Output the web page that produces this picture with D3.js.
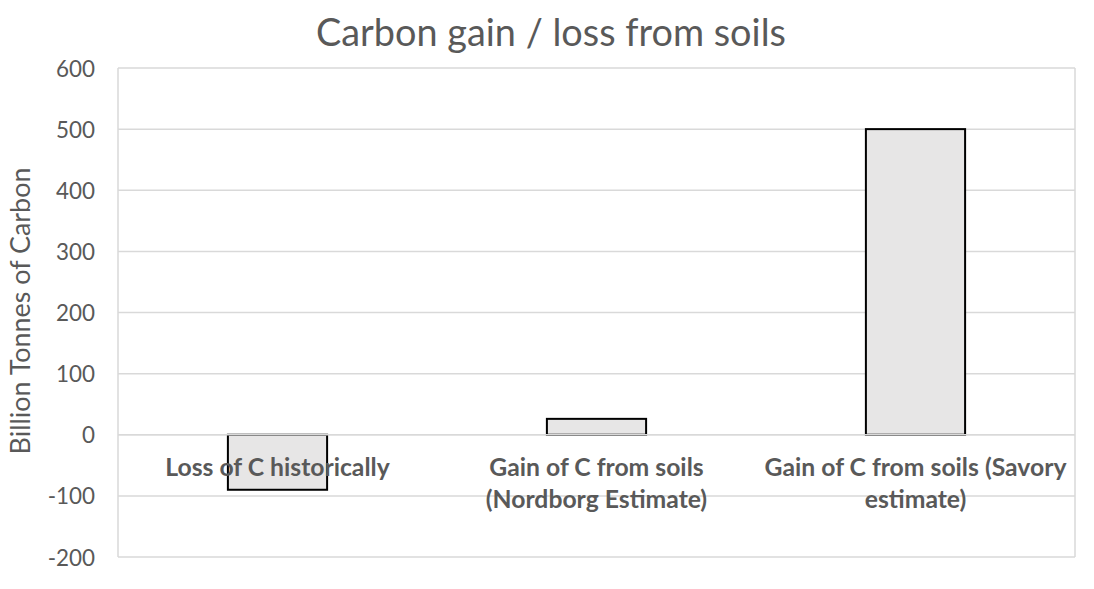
<!DOCTYPE html>
<html>
<head>
<meta charset="utf-8">
<script src="https://cdn.jsdelivr.net/npm/d3@7"></script>
<style>
  html, body { margin: 0; padding: 0; background: #fff; }
  svg { display: block; }
</style>
</head>
<body>
<svg id="chart" width="1094" height="589"></svg>
<script>
// ---- data ----
const categories = [
  ["Loss of C historically"],
  ["Gain of C from soils", "(Nordborg Estimate)"],
  ["Gain of C from soils (Savory", "estimate)"]
];
const values = [-90, 26, 500];
const yTicks = [-200, -100, 0, 100, 200, 300, 400, 500, 600];
const titleText = "Carbon gain / loss from soils";
const yTitle = "Billion Tonnes of Carbon";

// ---- layout ----
const plot = { left: 118, right: 1075, top: 68, bottom: 557 };
const FONT = "Lato, 'Open Sans', sans-serif";
const TXT = "#595959";

const svg = d3.select("#chart");

function fitSize(text, target, weight) {
  const t = svg.append("text").attr("font-family", FONT).attr("font-size", 100)
    .attr("font-weight", weight || "normal").text(text);
  const w = t.node().getComputedTextLength();
  t.remove();
  return 100 * target / w;
}

const titleSize = fitSize(titleText, 470);
const tickSize = fitSize("600", 39);
const yTitleSize = fitSize(yTitle, 287);
const catSize = fitSize("Gain of C from soils (Savory", 302, "bold");

const x = d3.scaleBand()
  .domain(d3.range(categories.length))
  .range([plot.left, plot.right])
  .paddingInner(0.689)
  .paddingOuter(0.3445);

const y = d3.scaleLinear()
  .domain([-200, 600])
  .range([plot.bottom, plot.top]);

// gridlines
svg.append("g")
  .selectAll("line")
  .data(yTicks)
  .join("line")
  .attr("x1", plot.left).attr("x2", plot.right)
  .attr("y1", d => y(d)).attr("y2", d => y(d))
  .attr("stroke", "#d9d9d9").attr("stroke-width", 1.5);

// plot border (left/right)
[plot.left, plot.right].forEach(px => {
  svg.append("line").attr("x1", px).attr("x2", px)
    .attr("y1", plot.top).attr("y2", plot.bottom)
    .attr("stroke", "#d9d9d9").attr("stroke-width", 1.5);
});

// y axis labels
const yAxis = d3.axisLeft(y).tickValues(yTicks).tickSize(0).tickPadding(0)
  .tickFormat(d => String(d));
const gy = svg.append("g").attr("transform", `translate(95,0)`).call(yAxis);
gy.select(".domain").remove();
gy.selectAll("text")
  .attr("font-family", FONT)
  .attr("font-size", tickSize)
  .attr("fill", TXT)
  .attr("dy", "0.36em");

// bars
svg.append("g")
  .selectAll("rect")
  .data(values)
  .join("rect")
  .attr("x", (d, i) => x(i))
  .attr("width", x.bandwidth())
  .attr("y", d => y(Math.max(0, d)))
  .attr("height", d => Math.abs(y(d) - y(0)))
  .attr("fill", "#e7e6e6")
  .attr("stroke", "#000")
  .attr("stroke-width", 2);

// zero line over bars
svg.append("line")
  .attr("x1", plot.left).attr("x2", plot.right)
  .attr("y1", y(0)).attr("y2", y(0))
  .attr("stroke", "#d9d9d9").attr("stroke-width", 1.5);

// category labels
const catG = svg.append("g");
categories.forEach((lines, i) => {
  const cx = x(i) + x.bandwidth() / 2;
  const t = catG.append("text")
    .attr("text-anchor", "middle")
    .attr("font-family", FONT)
    .attr("font-weight", "bold")
    .attr("font-size", catSize)
    .attr("fill", TXT);
  lines.forEach((ln, j) => {
    t.append("tspan").attr("x", cx).attr("y", 476 + j * 32).text(ln);
  });
});

// title
svg.append("text")
  .attr("x", 551).attr("y", 46)
  .attr("text-anchor", "middle")
  .attr("font-family", FONT)
  .attr("font-size", titleSize)
  .attr("fill", TXT)
  .text(titleText);

// y title
svg.append("text")
  .attr("transform", `translate(30,311) rotate(-90)`)
  .attr("text-anchor", "middle")
  .attr("font-family", FONT)
  .attr("font-size", yTitleSize)
  .attr("fill", TXT)
  .text(yTitle);
</script>
</body>
</html>
